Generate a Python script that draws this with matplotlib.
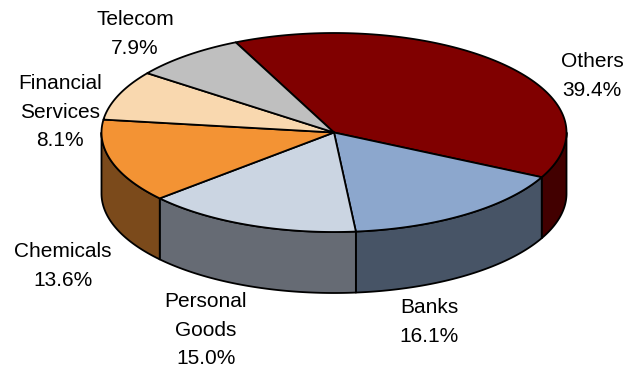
import numpy as np
import matplotlib
matplotlib.use("Agg")
import matplotlib.pyplot as plt
from matplotlib.patches import Polygon

# ------------------------------------------------------------
# Data
# ------------------------------------------------------------
sectors = ["Others", "Banks", "Personal\nGoods", "Chemicals",
           "Financial\nServices", "Telecom"]
shares = [39.4, 16.1, 15.0, 13.6, 8.1, 7.9]

top_colors = ["#800000", "#8CA7CD", "#CBD5E2", "#F39334", "#F9D8AF", "#BFBFBF"]
side_colors = ["#420000", "#475466", "#666B74", "#7B4A1B", "#7C6C57", "#606060"]

# label block centres in pixels (layout only)
label_pos = [(592, 76), (429, 322), (206, 330), (63, 266), (60, 112), (135, 34)]

# ------------------------------------------------------------
# Pie geometry (pixel space)
# ------------------------------------------------------------
cx, cy = 334, 132.5
rx, ry = 232.5, 99.5
depth = 61
start_deg = 115.0

fig = plt.figure(figsize=(6.24, 3.70), dpi=100)
ax = fig.add_axes([0, 0, 1, 1])
ax.set_xlim(0, 624)
ax.set_ylim(370, 0)
ax.axis("off")

def arc(t0, t1, n=120, dy=0.0):
    t = np.radians(np.linspace(t0, t1, n))
    return np.column_stack([cx + rx * np.cos(t), cy - ry * np.sin(t) + dy])

frac = np.array(shares) / np.sum(shares)
ends = start_deg - np.cumsum(frac) * 360
starts = np.concatenate([[start_deg], ends[:-1]])

# side walls (front half only: angles between -180 and 0)
for s, e, col in zip(starts, ends, side_colors):
    for shift in (0, -360, 360):
        hi = min(s + shift, 0)
        lo = max(e + shift, -180)
        if hi > lo:
            top = arc(hi, lo)
            bot = arc(lo, hi, dy=depth)
            ax.add_patch(Polygon(np.vstack([top, bot]), closed=True,
                                 facecolor=col, edgecolor="black",
                                 linewidth=1.3, joinstyle="round"))

# top faces
for s, e, col in zip(starts, ends, top_colors):
    pts = np.vstack([[cx, cy], arc(s, e)])
    ax.add_patch(Polygon(pts, closed=True, facecolor=col,
                         edgecolor="black", linewidth=1.3, joinstyle="round"))

# labels
for name, val, (x, y) in zip(sectors, shares, label_pos):
    ax.text(x, y, f"{name}\n{val:.1f}%", ha="center", va="center",
            fontsize=15, family="Liberation Sans", color="black",
            linespacing=1.62)

fig.savefig("out.png", dpi=100)
